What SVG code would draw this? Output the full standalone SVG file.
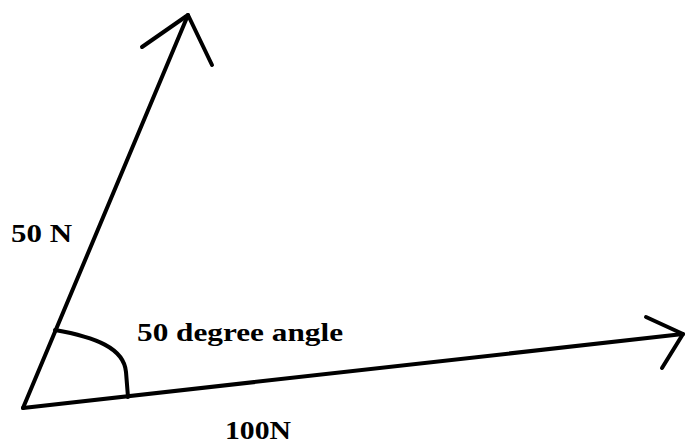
<svg xmlns="http://www.w3.org/2000/svg" width="686" height="445" viewBox="0 0 686 445">
<style>
.ln{fill:none;stroke:#000;stroke-width:4;stroke-linecap:round;stroke-linejoin:round}
.lb{font-family:'Liberation Serif',serif;font-weight:700;font-size:26px;fill:#000}
</style>
<rect width="686" height="445" fill="#fff"/>
<g id="connectors">
<path id="force50" class="ln" d="M23,408 L188,15"/>
<path id="head50" class="ln" d="M142,47 L188,15 L212,65"/>
<path id="force100" class="ln" d="M23,408 L683,334"/>
<path id="head100" class="ln" d="M646,317 L683,334 L662,368"/>
<path id="angle-arc" class="ln" d="M55,330 C95,337 124,348 126,372 L128,397"/>
</g>
<g id="labels">
<text class="lb" x="11" y="242" textLength="61" lengthAdjust="spacingAndGlyphs">50 N</text>
<text class="lb" x="137" y="341" textLength="206" lengthAdjust="spacingAndGlyphs">50 degree angle</text>
<text class="lb" x="225" y="439" textLength="66" lengthAdjust="spacingAndGlyphs">100N</text>
</g>
</svg>
